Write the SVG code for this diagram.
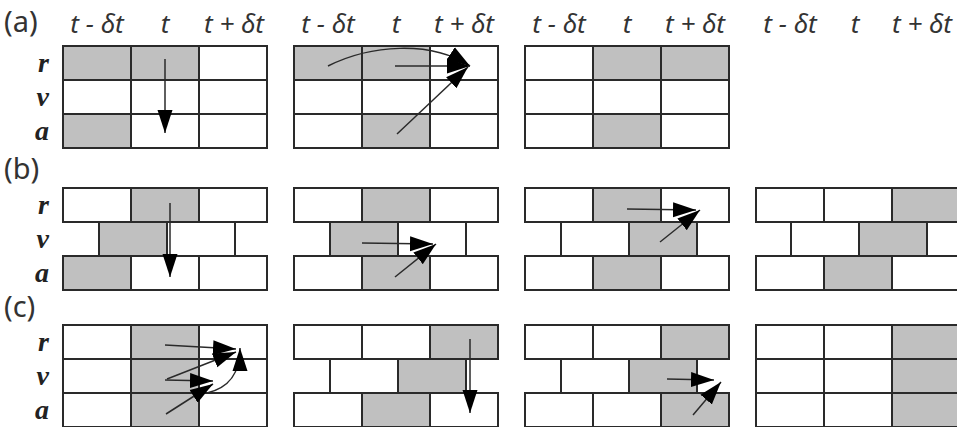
<svg xmlns="http://www.w3.org/2000/svg" width="957" height="427" viewBox="0 0 957 427">
  <style>
    .w { fill: #ffffff; stroke: #2a2a2a; stroke-width: 2; }
    .g { fill: #c0c0c0; stroke: #2a2a2a; stroke-width: 2; }
    .hd { font-family: "Noto Sans", "Open Sans", sans-serif; font-style: italic; font-size: 26px; fill: #333; text-anchor: middle; }
    .pl { font-family: "Noto Sans", "Open Sans", sans-serif; font-size: 29px; fill: #333; }
    .rl { font-family: "Liberation Serif", serif; font-style: italic; font-weight: bold; font-size: 28px; fill: #222; text-anchor: end; }
    .ar { fill: none; stroke: #2a2a2a; stroke-width: 1.5; marker-end: url(#ah); }
  </style>
  <defs>
    <marker id="ah" markerUnits="userSpaceOnUse" markerWidth="24" markerHeight="18" refX="23" refY="9" orient="auto">
      <path d="M0,1.5 L23,9 L0,16.5 Z" fill="#000"/>
    </marker>
  </defs>

  <rect width="957" height="427" fill="#fff"/>

  <!-- panel labels -->
  <g id="labels">
    <text class="pl" x="4" y="32">(a)</text>
    <text class="pl" x="4" y="179">(b)</text>
    <text class="pl" x="4" y="317">(c)</text>
    <text class="rl" x="49" y="72">r</text>
    <text class="rl" x="49" y="106">v</text>
    <text class="rl" x="49" y="140">a</text>
    <text class="rl" x="49" y="214">r</text>
    <text class="rl" x="49" y="248">v</text>
    <text class="rl" x="49" y="282">a</text>
    <text class="rl" x="49" y="351">r</text>
    <text class="rl" x="49" y="385">v</text>
    <text class="rl" x="49" y="419">a</text>
  </g>

  <!-- time headers -->
  <g id="headers">
    <text class="hd" x="97" y="33">t - δt</text>
    <text class="hd" x="165" y="33">t</text>
    <text class="hd" x="234" y="33">t + δt</text>
    <text class="hd" x="328" y="33">t - δt</text>
    <text class="hd" x="396" y="33">t</text>
    <text class="hd" x="464" y="33">t + δt</text>
    <text class="hd" x="559" y="33">t - δt</text>
    <text class="hd" x="627" y="33">t</text>
    <text class="hd" x="695" y="33">t + δt</text>
    <text class="hd" x="790" y="33">t - δt</text>
    <text class="hd" x="855" y="33">t</text>
    <text class="hd" x="922" y="33">t + δt</text>
  </g>

  <!-- row (a) -->
  <g id="a1">
    <rect class="g" x="63" y="46" width="68" height="34"/>
    <rect class="g" x="131" y="46" width="68" height="34"/>
    <rect class="w" x="199" y="46" width="68" height="34"/>
    <rect class="w" x="63" y="80" width="68" height="34"/>
    <rect class="w" x="131" y="80" width="68" height="34"/>
    <rect class="w" x="199" y="80" width="68" height="34"/>
    <rect class="g" x="63" y="114" width="68" height="34"/>
    <rect class="w" x="131" y="114" width="68" height="34"/>
    <rect class="w" x="199" y="114" width="68" height="34"/>
  </g>
  <g id="a2">
    <rect class="g" x="294" y="46" width="68" height="34"/>
    <rect class="g" x="362" y="46" width="68" height="34"/>
    <rect class="w" x="430" y="46" width="68" height="34"/>
    <rect class="w" x="294" y="80" width="68" height="34"/>
    <rect class="w" x="362" y="80" width="68" height="34"/>
    <rect class="w" x="430" y="80" width="68" height="34"/>
    <rect class="w" x="294" y="114" width="68" height="34"/>
    <rect class="g" x="362" y="114" width="68" height="34"/>
    <rect class="w" x="430" y="114" width="68" height="34"/>
  </g>
  <g id="a3">
    <rect class="w" x="525" y="46" width="68" height="34"/>
    <rect class="g" x="593" y="46" width="68" height="34"/>
    <rect class="g" x="661" y="46" width="68" height="34"/>
    <rect class="w" x="525" y="80" width="68" height="34"/>
    <rect class="w" x="593" y="80" width="68" height="34"/>
    <rect class="w" x="661" y="80" width="68" height="34"/>
    <rect class="w" x="525" y="114" width="68" height="34"/>
    <rect class="g" x="593" y="114" width="68" height="34"/>
    <rect class="w" x="661" y="114" width="68" height="34"/>
  </g>

  <!-- row (b): velocity row staggered by half a step -->
  <g id="b1">
    <rect class="w" x="63" y="188" width="68" height="34"/>
    <rect class="g" x="131" y="188" width="68" height="34"/>
    <rect class="w" x="199" y="188" width="68" height="34"/>
    <rect class="g" x="99" y="222" width="68" height="34"/>
    <rect class="w" x="167" y="222" width="68" height="34"/>
    <rect class="g" x="63" y="256" width="68" height="34"/>
    <rect class="w" x="131" y="256" width="68" height="34"/>
    <rect class="w" x="199" y="256" width="68" height="34"/>
  </g>
  <g id="b2">
    <rect class="w" x="294" y="188" width="68" height="34"/>
    <rect class="g" x="362" y="188" width="68" height="34"/>
    <rect class="w" x="430" y="188" width="68" height="34"/>
    <rect class="g" x="330" y="222" width="68" height="34"/>
    <rect class="w" x="398" y="222" width="68" height="34"/>
    <rect class="w" x="294" y="256" width="68" height="34"/>
    <rect class="g" x="362" y="256" width="68" height="34"/>
    <rect class="w" x="430" y="256" width="68" height="34"/>
  </g>
  <g id="b3">
    <rect class="w" x="525" y="188" width="68" height="34"/>
    <rect class="g" x="593" y="188" width="68" height="34"/>
    <rect class="w" x="661" y="188" width="68" height="34"/>
    <rect class="w" x="561" y="222" width="68" height="34"/>
    <rect class="g" x="629" y="222" width="68" height="34"/>
    <rect class="w" x="525" y="256" width="68" height="34"/>
    <rect class="g" x="593" y="256" width="68" height="34"/>
    <rect class="w" x="661" y="256" width="68" height="34"/>
  </g>
  <g id="b4">
    <rect class="w" x="756" y="188" width="68" height="34"/>
    <rect class="w" x="824" y="188" width="68" height="34"/>
    <rect class="g" x="892" y="188" width="68" height="34"/>
    <rect class="w" x="791" y="222" width="68" height="34"/>
    <rect class="g" x="859" y="222" width="68" height="34"/>
    <rect class="w" x="756" y="256" width="68" height="34"/>
    <rect class="g" x="824" y="256" width="68" height="34"/>
    <rect class="w" x="892" y="256" width="68" height="34"/>
  </g>

  <!-- row (c) -->
  <g id="c1">
    <rect class="w" x="63" y="325" width="68" height="34"/>
    <rect class="g" x="131" y="325" width="68" height="34"/>
    <rect class="w" x="199" y="325" width="68" height="34"/>
    <rect class="w" x="63" y="359" width="68" height="34"/>
    <rect class="g" x="131" y="359" width="68" height="34"/>
    <rect class="w" x="199" y="359" width="68" height="34"/>
    <rect class="w" x="63" y="393" width="68" height="34"/>
    <rect class="g" x="131" y="393" width="68" height="34"/>
    <rect class="w" x="199" y="393" width="68" height="34"/>
  </g>
  <g id="c2">
    <rect class="w" x="294" y="325" width="68" height="34"/>
    <rect class="w" x="362" y="325" width="68" height="34"/>
    <rect class="g" x="430" y="325" width="68" height="34"/>
    <rect class="w" x="330" y="359" width="68" height="34"/>
    <rect class="g" x="398" y="359" width="68" height="34"/>
    <rect class="w" x="294" y="393" width="68" height="34"/>
    <rect class="g" x="362" y="393" width="68" height="34"/>
    <rect class="w" x="430" y="393" width="68" height="34"/>
  </g>
  <g id="c3">
    <rect class="w" x="525" y="325" width="68" height="34"/>
    <rect class="w" x="593" y="325" width="68" height="34"/>
    <rect class="g" x="661" y="325" width="68" height="34"/>
    <rect class="w" x="561" y="359" width="68" height="34"/>
    <rect class="g" x="629" y="359" width="68" height="34"/>
    <rect class="w" x="525" y="393" width="68" height="34"/>
    <rect class="w" x="593" y="393" width="68" height="34"/>
    <rect class="g" x="661" y="393" width="68" height="34"/>
  </g>
  <g id="c4">
    <rect class="w" x="756" y="325" width="68" height="34"/>
    <rect class="w" x="824" y="325" width="68" height="34"/>
    <rect class="g" x="892" y="325" width="68" height="34"/>
    <rect class="w" x="756" y="359" width="68" height="34"/>
    <rect class="w" x="824" y="359" width="68" height="34"/>
    <rect class="g" x="892" y="359" width="68" height="34"/>
    <rect class="w" x="756" y="393" width="68" height="34"/>
    <rect class="w" x="824" y="393" width="68" height="34"/>
    <rect class="g" x="892" y="393" width="68" height="34"/>
  </g>

  <!-- update arrows -->
  <g id="connectors">
    <!-- (a) -->
    <path class="ar" d="M165,59 L165,133"/>
    <path class="ar" d="M328,66 C370,45 430,40 470,66"/>
    <path class="ar" d="M395,66 L470,66"/>
    <path class="ar" d="M397,134 L468,67"/>
    <!-- (b) -->
    <path class="ar" d="M170,203 L170,277"/>
    <path class="ar" d="M362,243 L433,244"/>
    <path class="ar" d="M395,277 L436,244"/>
    <path class="ar" d="M627,209 L696,210"/>
    <path class="ar" d="M660,242 L700,210"/>
    <!-- (c) -->
    <path class="ar" d="M165,345 L236,349"/>
    <path class="ar" d="M167,379 L236,352"/>
    <path class="ar" d="M165,380 L213,381"/>
    <path class="ar" d="M166,414 L213,384"/>
    <path class="ar" d="M207,393 C228,388 240,375 240,348"/>
    <path class="ar" d="M470,339 L470,413"/>
    <path class="ar" d="M667,379 L714,380"/>
    <path class="ar" d="M693,415 L721,382"/>
  </g>
</svg>
